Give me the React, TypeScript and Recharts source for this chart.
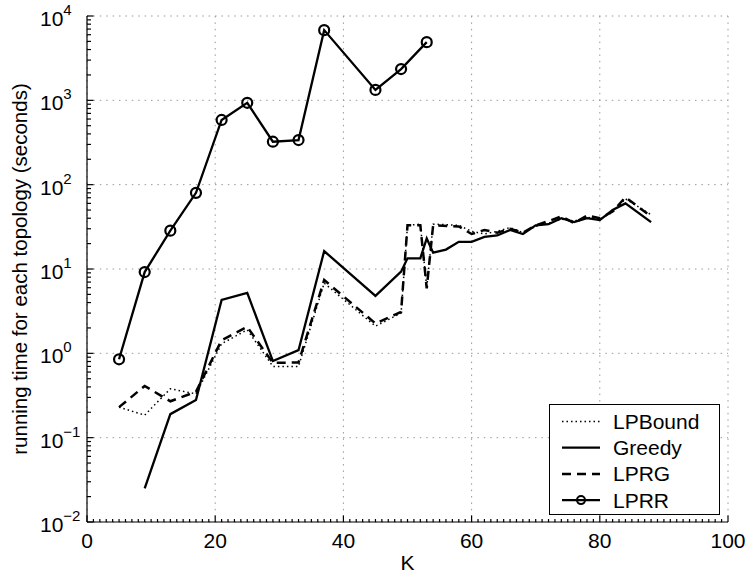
import React from 'react';
import {
  LineChart,
  Line,
  XAxis,
  YAxis,
  CartesianGrid,
  Legend,
} from 'recharts';

const FONT = '"Liberation Sans", Arial, Helvetica, sans-serif';

// K values per series
const K_LPRR = [5, 9, 13, 17, 21, 25, 29, 33, 37, 45, 49, 53];
const K_LP = [5, 9, 13, 17, 21, 25, 29, 33, 37, 45, 49, 50, 52, 53, 54, 58, 60, 62, 64, 66, 68, 70, 72, 74, 76, 78, 80, 82, 84, 88];
const K_GREEDY = [9, 13, 17, 21, 25, 29, 33, 37, 45, 49, 50, 52, 53, 54, 56, 58, 60, 62, 64, 66, 68, 70, 72, 74, 76, 78, 80, 82, 84, 88];

// running times (seconds)
const LPRR = [0.85, 9.2, 28.5, 80, 585, 935, 323, 338, 6800, 1330, 2350, 4900];
const LPBOUND = [0.23, 0.185, 0.38, 0.33, 1.3, 1.9, 0.7, 0.7, 6.8, 2.1, 3.0, 33, 34, 6.0, 34, 33, 28, 26, 28, 31, 27, 32, 35, 39, 37, 41, 39, 47, 68, 44];
const LPRG = [0.23, 0.41, 0.27, 0.35, 1.43, 2.06, 0.77, 0.78, 7.4, 2.26, 3.1, 33, 33, 5.9, 33, 32, 26, 29, 27, 30, 27, 33, 37, 42, 35, 43, 40, 48, 71, 42];
const GREEDY = [0.025, 0.19, 0.28, 4.3, 5.2, 0.81, 1.09, 16.3, 4.8, 9.3, 13.4, 13.4, 23, 15.6, 17, 21, 21, 24, 25, 29, 26, 33, 34, 40, 36, 40, 38, 50, 60, 36];

const X_TICKS = [0, 20, 40, 60, 80, 100];
const Y_TICKS = [0.01, 0.1, 1, 10, 100, 1000, 10000];
const Y_MINOR = [-2, -1, 0, 1, 2, 3].flatMap((d) =>
  [2, 3, 4, 5, 6, 7, 8, 9].map((m) => +(m * Math.pow(10, d)).toPrecision(3))
);
const X_ALL = Array.from({ length: 101 }, (_, i) => i);
const Y_ALL = [...Y_TICKS, ...Y_MINOR].sort((a, b) => a - b);

const zip = (ks: number[], vs: number[]) => ks.map((k, i) => ({ k, v: vs[i] }));

const series = [
  { name: 'LPBound', data: zip(K_LP, LPBOUND), dash: '1.5 3', width: 1.5, dot: false },
  { name: 'LPRG', data: zip(K_LP, LPRG), dash: '9 6', width: 2.5, dot: false },
  { name: 'Greedy', data: zip(K_GREEDY, GREEDY), dash: undefined, width: 2.3, dot: false },
  { name: 'LPRR', data: zip(K_LPRR, LPRR), dash: undefined, width: 2.3, dot: true },
];

const legendOrder = ['LPBound', 'Greedy', 'LPRG', 'LPRR'];

// major + minor inward ticks, labels only on decades
const YTick = ({ x, y, payload }: any) => {
  const v = payload.value;
  const major = Y_TICKS.includes(v);
  const e = Math.round(Math.log10(v));
  return (
    <g>
      <path d={`M${x},${y}h${major ? 6.5 : 4}`} stroke="#000" strokeWidth={1.2} />
      {major && (
        <text x={x - 47} y={y + 10} textAnchor="start" fontSize={21} fontFamily={FONT} fill="#000">
          <tspan>10</tspan>
          <tspan dy={-11} fontSize={15}>{e < 0 ? '\u2212' + -e : String(e)}</tspan>
        </text>
      )}
    </g>
  );
};

const XTick = ({ x, y, payload }: any) => {
  const major = X_TICKS.includes(payload.value);
  return (
    <g>
      <path d={`M${x},${y}v${major ? -6.5 : -3}`} stroke="#000" strokeWidth={1.2} />
      {major && (
        <text x={x} y={y + 26} textAnchor="middle" fontSize={21} fontFamily={FONT} fill="#000">
          {payload.value}
        </text>
      )}
    </g>
  );
};

const renderLegend = () => (
  <svg width={171} height={111} style={{ display: 'block' }}>
    <rect x={0.5} y={0.5} width={170} height={110} fill="#fff" stroke="#000" />
    {legendOrder.map((name, i) => {
      const s = series.find((d) => d.name === name)!;
      const cy = 17.5 + i * 26.2;
      return (
        <g key={name}>
          <line x1={13} x2={51} y1={cy} y2={cy} stroke="#000" strokeWidth={s.width} strokeDasharray={s.dash} />
          {s.dot && <circle cx={32} cy={cy} r={4} fill="none" stroke="#000" strokeWidth={2} />}
          <text x={64} y={cy + 7.5} fontSize={21} fontFamily={FONT} fill="#000">
            {name}
          </text>
        </g>
      );
    })}
  </svg>
);

export default function App() {
  return (
    <div style={{ position: 'absolute', left: 0, top: 0, background: '#fff' }}>
      <LineChart width={748} height={575} margin={{ top: 16, right: 20, bottom: 0, left: 0 }}>
        <CartesianGrid
          stroke="#999"
          strokeDasharray="1.5 4.9"
          strokeWidth={1}
          horizontalValues={Y_TICKS}
          verticalValues={X_TICKS}
        />
        <XAxis
          type="number"
          dataKey="k"
          domain={[0, 100]}
          ticks={X_ALL}
          interval={0}
          height={53}
          tickSize={0}
          tickMargin={0}
          tickLine={false}
          tick={<XTick />}
          axisLine={{ stroke: '#000', strokeWidth: 1.2 }}
          allowDuplicatedCategory={false}
          label={({ viewBox }: any) => (
            <text x={viewBox.x + viewBox.width / 2} y={570} textAnchor="middle" fontSize={21} fontFamily={FONT} fill="#000">
              K
            </text>
          )}
        />
        <YAxis
          scale="log"
          domain={[0.01, 10000]}
          ticks={Y_ALL}
          interval={0}
          width={87}
          tickSize={0}
          tickMargin={0}
          tickLine={false}
          tick={<YTick />}
          axisLine={{ stroke: '#000', strokeWidth: 1.2 }}
          allowDataOverflow
          label={({ viewBox }: any) => {
            const cy = viewBox.y + viewBox.height / 2;
            return (
              <text
                x={27}
                y={cy}
                transform={`rotate(-90 27 ${cy})`}
                textAnchor="middle"
                fontSize={20.5}
                fontFamily={FONT}
                fill="#000"
              >
                running time for each topology (seconds)
              </text>
            );
          }}
        />
        {series.map((s) => (
          <Line
            key={s.name}
            name={s.name}
            data={s.data}
            dataKey="v"
            type="linear"
            stroke="#000"
            strokeWidth={s.width}
            strokeDasharray={s.dash}
            dot={s.dot ? { r: 5, stroke: '#000', strokeWidth: 2.2, fill: 'none' } : false}
            activeDot={false}
            isAnimationActive={false}
          />
        ))}
        <Legend
          layout="horizontal"
          align="center"
          verticalAlign="middle"
          content={renderLegend}
          wrapperStyle={{ left: 549, top: 404, width: 171, height: 111, zIndex: 2 }}
        />
      </LineChart>
    </div>
  );
}
